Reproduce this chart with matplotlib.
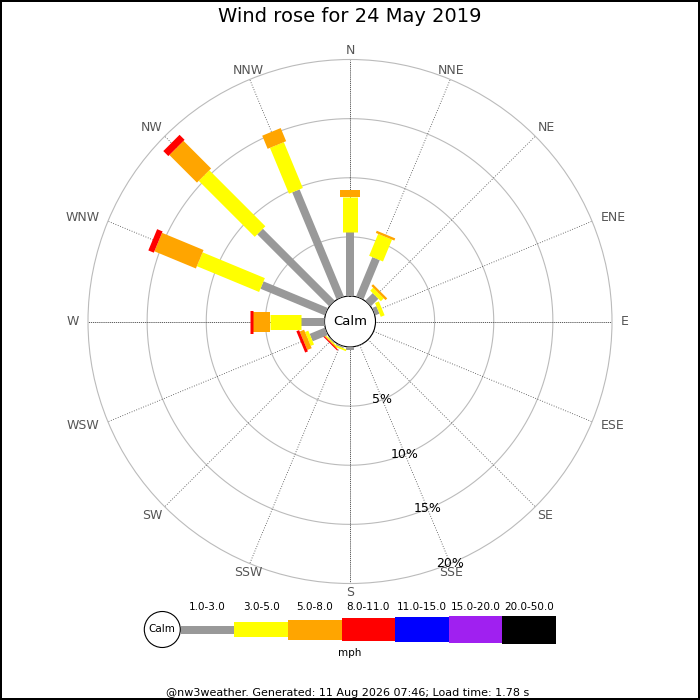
import numpy as np
import matplotlib
matplotlib.use("Agg")
import matplotlib.pyplot as plt
from matplotlib.patches import Circle, Rectangle

# wind directions, clockwise from north
directions = ['N', 'NNE', 'NE', 'ENE', 'E', 'ESE', 'SE', 'SSE',
              'S', 'SSW', 'SW', 'WSW', 'W', 'WNW', 'NW', 'NNW']

# percentage of time in each speed band, per direction
pct_1_3   = [5.4, 3.6, 0.9, 0.4, 0, 0, 0, 0.05, 0.25, 0.15, 0.1, 1.4, 2.0, 5.9, 8.6, 9.8]
pct_3_5   = [3.0, 2.0, 0.35, 0.35, 0, 0, 0, 0, 0, 0.15, 0.1, 0.3, 2.6, 5.7, 6.7, 4.2]
pct_5_8   = [0.6, 0.2, 0.2, 0, 0, 0, 0, 0, 0, 0, 0.05, 0.4, 1.45, 3.8, 3.3, 1.2]
pct_8_11  = [0, 0, 0, 0, 0, 0, 0, 0, 0, 0, 0.1, 0.25, 0.25, 0.5, 0.6, 0]
pct_11_15 = [0] * 16
pct_15_20 = [0] * 16
pct_20_50 = [0] * 16

speed_labels = ['1.0-3.0', '3.0-5.0', '5.0-8.0', '8.0-11.0', '11.0-15.0', '15.0-20.0', '20.0-50.0']
speed_colors = ['#999999', '#ffff00', '#ffa500', '#ff0000', '#0000ff', '#a020f0', '#000000']
bar_px = [8, 15, 20, 23, 25, 27, 28]   # bar thickness in pixels

grid_pcts = [5, 10, 15, 20]

bands = [pct_1_3, pct_3_5, pct_5_8, pct_8_11, pct_11_15, pct_15_20, pct_20_50]

W = H = 700
CX, CY = 350, 321.5   # centre of the rose in pixels
R_PX = 262            # pixel radius of the 20% circle
CALM_PX = 25.5        # pixel radius of the calm circle
RMAX = 20
rorigin = -CALM_PX * RMAX / (R_PX - CALM_PX)

def px_to_r(px):
    return px / R_PX * (RMAX - rorigin) + rorigin

fig = plt.figure(figsize=(7, 7), dpi=100)
fig.patch.set_facecolor('white')
fig.patch.set_edgecolor('black')
fig.patch.set_linewidth(1.5)

ax = fig.add_axes([(CX - R_PX) / W, (H - CY - R_PX) / H, 2 * R_PX / W, 2 * R_PX / H],
                  projection='polar')
ax.set_theta_zero_location('N')
ax.set_theta_direction(-1)
ax.set_ylim(0, RMAX)
ax.set_rorigin(rorigin)
ax.set_xticks([])
ax.set_yticks([])
ax.grid(False)
ax.spines['polar'].set_color('#bbbbbb')
ax.spines['polar'].set_linewidth(0.8)

full = np.linspace(0, 2 * np.pi, 361)
for g in grid_pcts[:-1]:
    ax.plot(full, np.full_like(full, g), color='#bbbbbb', lw=0.8, zorder=1)

angles = np.radians(np.arange(16) * 22.5)
for i, th in enumerate(angles):
    if i % 4 == 0:
        ls = (0, (1.5, 1))
    else:
        ls = (0, (1, 2))
    ax.plot([th, th], [0, RMAX], color='#444444', lw=0.6, ls=ls, zorder=1)

# calm circle
ax.fill(full, np.zeros_like(full), facecolor='white', edgecolor='#aaaaaa', lw=0.6, zorder=2)
ax.text(0.5, 0.5, 'Calm', transform=ax.transAxes, ha='center', va='center', fontsize=9.5, zorder=5)

# bars
for i, th in enumerate(angles):
    start = 0
    for j, band in enumerate(bands):
        v = band[i]
        if v > 0:
            ax.plot([th, th], [start, start + v], color=speed_colors[j],
                    lw=bar_px[j] * 0.72, solid_capstyle='butt', zorder=3)
            start += v

# direction labels
for name, th in zip(directions, angles):
    s, c = np.sin(th), np.cos(th)
    ha = 'center' if abs(s) < 0.5 else ('left' if s > 0 else 'right')
    va = 'center' if abs(c) < 0.5 else ('bottom' if c > 0 else 'top')
    off = 9 if va == 'center' else 3
    ax.text(th, px_to_r(R_PX + off), name, ha=ha, va=va, fontsize=9, color='#555555', clip_on=False)

# percentage labels along SSE
for g in grid_pcts:
    ax.text(np.radians(157.5), g, '%d%%' % g, ha='center', va='center', fontsize=9, zorder=6)

fig.text(0.5, 1 - 17 / H, 'Wind rose for 24 May 2019', ha='center', va='center', fontsize=14)

# legend, in pixel coordinates
lax = fig.add_axes([0, 0, 1, 1])
lax.set_xlim(0, W)
lax.set_ylim(H, 0)
lax.axis('off')
lax.patch.set_alpha(0)

ly = 629.5
lax.add_patch(Circle((162.3, ly), 18, facecolor='white', edgecolor='black', lw=0.8))
lax.text(162.3, ly, 'Calm', ha='center', va='center', fontsize=7.5)
x0, seg_w = 180.7, 53.6
for j, lab in enumerate(speed_labels):
    x = x0 + j * seg_w
    lax.add_patch(Rectangle((x, ly - bar_px[j] / 2), seg_w, bar_px[j], facecolor=speed_colors[j], edgecolor='none'))
    lax.text(x + seg_w / 2, 607, lab, ha='center', va='center', fontsize=7.5)
lax.text(350, 653, 'mph', ha='center', va='center', fontsize=7.5)

lax.text(348, 692.5, '@nw3weather. Generated: 11 Aug 2026 07:46; Load time: 1.78 s',
         ha='center', va='center', fontsize=8)

fig.savefig('out.png', dpi=100)
